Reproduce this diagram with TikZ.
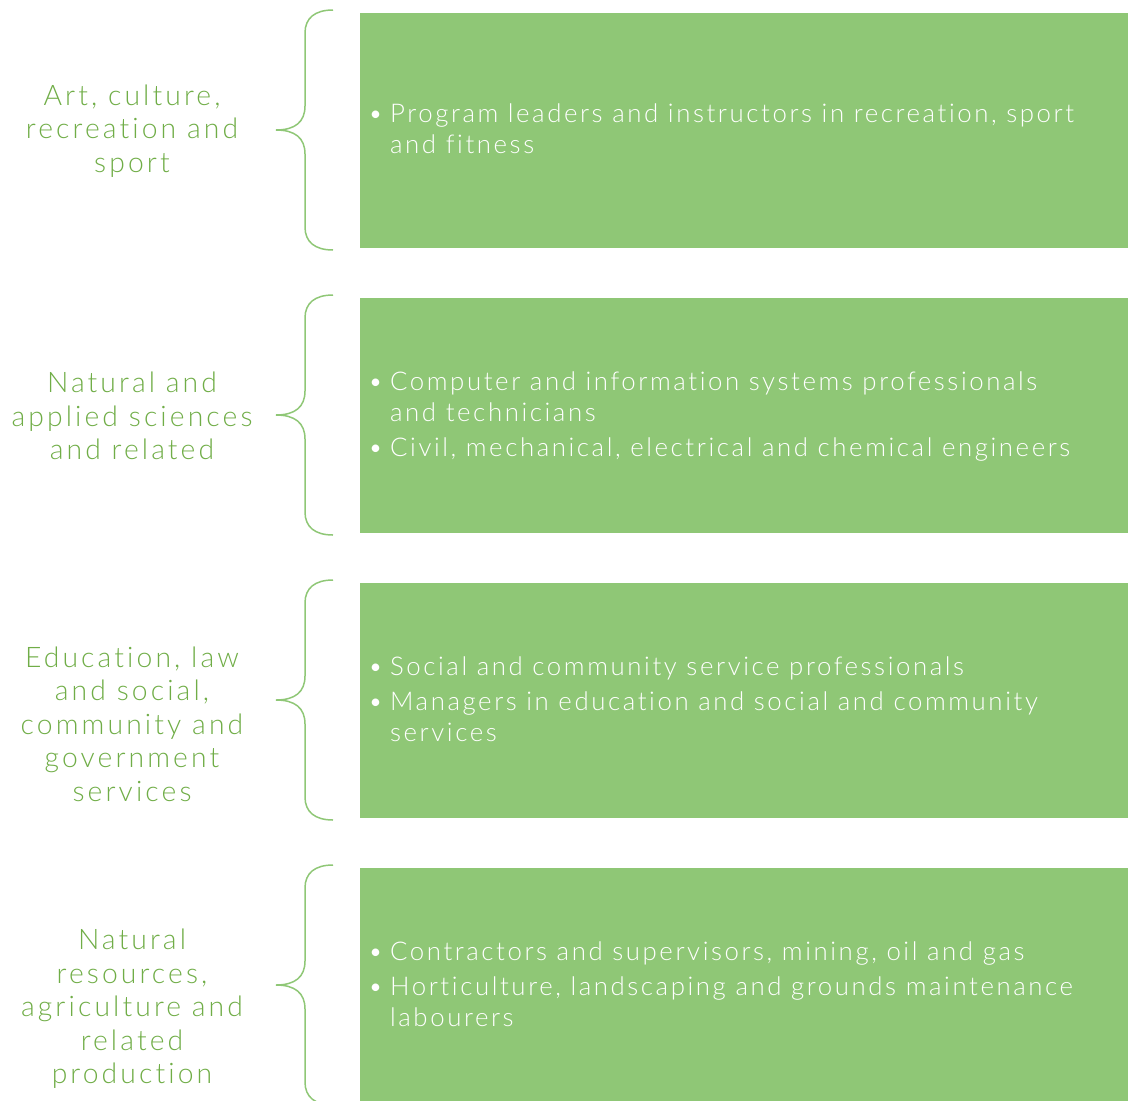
\documentclass[tikz,border=0pt]{standalone}
\usepackage{fontspec}
\setmainfont{Lato}[UprightFont={* Light}, Ligatures=NoCommon]
\newfontfamily\itemfont{Lato}[UprightFont={* Light}, LetterSpace=10, Ligatures=NoCommon]
\newfontfamily\labelfont{Lato}[UprightFont={* Light}, LetterSpace=11, Ligatures=NoCommon]
\definecolor{boxgreen}{HTML}{8FC776}
\definecolor{labelgreen}{HTML}{70AD47}
\newcommand{\bul}{\textbullet}
\tikzset{
  catbox/.style={fill=boxgreen, draw=none},
  catlabel/.style={text=labelgreen, align=center, font=\labelfont\fontsize{28.3}{33.5}\selectfont, inner sep=0pt},
  itemtext/.style={text=white, align=left, anchor=west, font=\itemfont\fontsize{25.8}{31}\selectfont, inner sep=0pt},
  bracestyle/.style={draw=boxgreen, line width=1.5pt}
}
\newcommand{\drawbrace}[1]{%
  \draw[bracestyle] (333,#1-120) .. controls (315,#1-120) and (305,#1-112) .. (305,#1-97)
    -- (305,#1-24) .. controls (305,#1-8) and (295,#1) .. (276,#1)
    .. controls (295,#1) and (305,#1+8) .. (305,#1+24)
    -- (305,#1+97) .. controls (305,#1+112) and (315,#1+120) .. (333,#1+120);}
\begin{document}
\begin{tikzpicture}[x=1pt,y=-1pt]
\useasboundingbox (0,0) rectangle (1128,1101);
% boxes
\path[catbox] (360,13) rectangle (1128,248) coordinate (b1);
\path[catbox] (360,298) rectangle (1128,533) coordinate (b2);
\path[catbox] (360,583) rectangle (1128,818) coordinate (b3);
\path[catbox] (360,868) rectangle (1128,1101) coordinate (b4);
% braces
\drawbrace{130}
\drawbrace{415}
\drawbrace{700}
\drawbrace{985}
% labels
\node[catlabel] (l1) at (132,131) {Art, culture,\\recreation and\\sport};
\node[catlabel] (l2) at (132,416) {Natural and\\applied sciences\\and related};
\node[catlabel] (l3) at (132,724) {Education, law\\and social,\\community and\\government\\services};
\node[catlabel] (l4) at (132,1009) {Natural\\resources,\\agriculture and\\related\\production};
% items
\node[itemtext] (t1) at (368,132) {\begin{tabular}{@{}l@{\hspace{7pt}}l@{}}\bul & Program leaders and instructors in recreation, sport\\ & and fitness\end{tabular}};
\node[itemtext] (t2) at (368,417) {\begin{tabular}{@{}l@{\hspace{7pt}}l@{}}\bul & Computer and information systems professionals\\ & and technicians\\[4pt]\bul & Civil, mechanical, electrical and chemical engineers\end{tabular}};
\node[itemtext] (t3) at (368,702) {\begin{tabular}{@{}l@{\hspace{7pt}}l@{}}\bul & Social and community service professionals\\[4pt]\bul & Managers in education and social and community\\ & services\end{tabular}};
\node[itemtext] (t4) at (368,987) {\begin{tabular}{@{}l@{\hspace{7pt}}l@{}}\bul & Contractors and supervisors, mining, oil and gas\\[4pt]\bul & Horticulture, landscaping and grounds maintenance\\ & labourers\end{tabular}};
\end{tikzpicture}
\end{document}
